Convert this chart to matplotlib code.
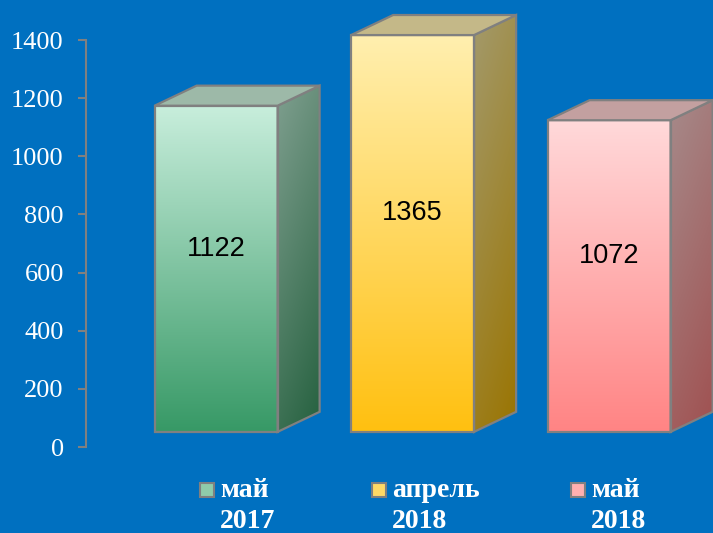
import numpy as np
import matplotlib
matplotlib.use("Agg")
import matplotlib.pyplot as plt
from matplotlib.patches import Polygon, Rectangle
from matplotlib.colors import to_rgb

categories = ["май\n2017", "апрель\n2018", "май\n2018"]
values = [1122, 1365, 1072]
yticks = [0, 200, 400, 600, 800, 1000, 1200, 1400]

front_top = ["#C8EEDC", "#FFEFAF", "#FFD9DA"]
front_bottom = ["#379966", "#FFC010", "#FF8484"]
side_top = ["#7F9F8F", "#A39A6C", "#A68A8A"]
side_bottom = ["#24603E", "#9A7400", "#A05050"]
top_colors = ["#9DB9A8", "#C4B888", "#C3A0A0"]
legend_colors = ["#8FCCAA", "#FFD966", "#FFB0B0"]

BG = "#0070C0"
EDGE = "#808080"
W, H = 713, 533
base = 52       # floor of the 3D box above the axis zero
width = 0.626
dx, dy = 0.214, 69


def gradient(c_top, c_bot, n=200, diag=0.0):
    # image with origin="lower": row 0 is the bottom
    t = np.linspace(0, 1, n)
    yy, xx = np.meshgrid(t, t, indexing="ij")
    f = np.clip((1 - diag) * yy + diag * (1 - xx), 0, 1)[..., None]
    a, b = np.array(to_rgb(c_top)), np.array(to_rgb(c_bot))
    return b + (a - b) * f


def fill_poly(ax, pts, img):
    xs, ys = zip(*pts)
    poly = Polygon(pts, closed=True, facecolor="none", edgecolor=EDGE,
                   linewidth=1.6, zorder=3, clip_on=False)
    ax.add_patch(poly)
    im = ax.imshow(img, extent=[min(xs), max(xs), min(ys), max(ys)],
                   origin="lower", aspect="auto", zorder=2,
                   interpolation="bilinear")
    im.set_clip_path(poly)


fig = plt.figure(figsize=(W / 100, H / 100), dpi=100)
fig.patch.set_facecolor(BG)
ax = fig.add_axes([86 / W, 86 / H, 627 / W, 447 / H])
ax.set_facecolor(BG)

for i, v in enumerate(values):
    x0, x1 = i - width / 2, i + width / 2
    y0, y1 = base, base + v
    front = [(x0, y0), (x1, y0), (x1, y1), (x0, y1)]
    side = [(x1, y0), (x1 + dx, y0 + dy), (x1 + dx, y1 + dy), (x1, y1)]
    top = [(x0, y1), (x0 + dx, y1 + dy), (x1 + dx, y1 + dy), (x1, y1)]
    fill_poly(ax, front, gradient(front_top[i], front_bottom[i]))
    fill_poly(ax, side, gradient(side_top[i], side_bottom[i], diag=0.25))
    ax.add_patch(Polygon(top, closed=True, facecolor=top_colors[i],
                         edgecolor=EDGE, linewidth=1.6, zorder=3))
    ax.text(i, base + v / 2 + dy, str(v), ha="center", va="center",
            fontsize=19.5, family="Liberation Sans", color="black", zorder=5)

ax.set_xlim(-0.662, 2.529)
ax.set_ylim(0, 447 / 0.29071)
ax.set_yticks(yticks)
ax.set_xticks([])
for s in ["top", "right", "bottom"]:
    ax.spines[s].set_visible(False)
ax.spines["left"].set_bounds(0, 1400)
ax.spines["left"].set_color(EDGE)
ax.spines["left"].set_linewidth(1.5)
ax.tick_params(axis="y", length=6, width=1.5, color=EDGE, labelcolor="white",
               labelsize=19, pad=10)
for lab in ax.get_yticklabels():
    lab.set_family("Liberation Serif")

# legend below the bars
leg_x = [207, 379, 578]
for lx, name, c in zip(leg_x, categories, legend_colors):
    fig.add_artist(Rectangle(((lx - 7) / W, (H - 497) / H), 14 / W, 14 / H,
                             transform=fig.transFigure, facecolor=c,
                             edgecolor=EDGE, linewidth=1.5))
    fig.text((lx + 13) / W, (H - 506) / H, name, ha="left", va="center",
             fontsize=20, fontweight="bold", family="Liberation Serif",
             color="white", linespacing=1.3)

fig.savefig("out.png", dpi=100, facecolor=BG)
